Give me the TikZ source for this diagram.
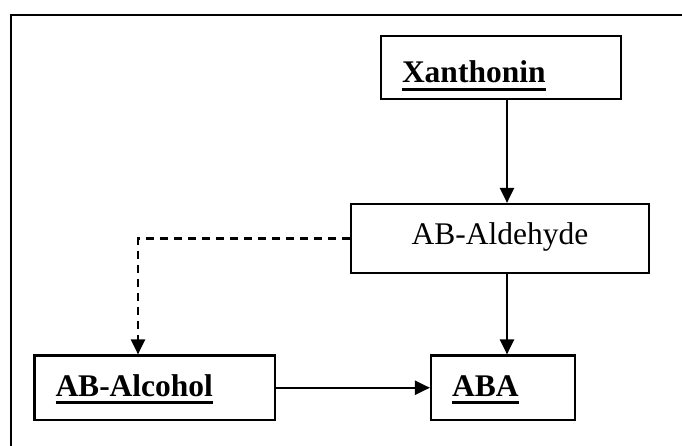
\documentclass[tikz,border=0pt]{standalone}
\usepackage{fontspec}
\setmainfont{Liberation Serif}
\usepackage{tikz}
\usetikzlibrary{arrows.meta}
\tikzstyle{arrow} = [line width=2.2pt,-{Triangle[length=15pt,width=14pt]}]
\tikzstyle{dasharrow} = [arrow,dash pattern=on 8pt off 6pt]
\tikzstyle{box} = [draw,rectangle,line width=2.2pt,inner ysep=0pt,font=\fontsize{31.5}{38}\selectfont]
\tikzstyle{namebox} = [box,font=\fontsize{31.5}{38}\selectfont\bfseries,align=left,inner xsep=21pt]
\newcommand{\ulthick}[1]{\setbox0\hbox{#1}\rlap{\rule[-8pt]{\wd0}{3pt}}\box0}

\begin{document}
\begin{tikzpicture}[x=1pt,y=-1pt]
\clip (0,0) rectangle (682,446);
% frame, runs off the right and bottom
\draw[line width=2pt] (11,15) rectangle (700,470);

\node[namebox,text width=198pt,text height=47pt,text depth=16pt] (xan) at (501,67.5) {\ulthick{Xanthonin}};
\node[box,minimum width=298pt,text height=40pt,text depth=29pt] (ald) at (500,238.5) {AB-Aldehyde};
\node[namebox,text width=198.5pt,text height=40.5pt,text depth=24pt] (alc) at (154.75,387.75) {\ulthick{AB-Alcohol}};
\node[namebox,text width=102pt,text height=40.5pt,text depth=24pt] (aba) at (503,387.75) {\ulthick{ABA}};

\draw[arrow] ([xshift=6pt]xan.south) -- ([xshift=6pt]xan.south |- ald.north);
\draw[arrow] ([xshift=7pt]ald.south) -- ([xshift=7pt]ald.south |- aba.north);
\draw[arrow] (alc.east) -- (aba.west);
\draw[dasharrow] (ald.west) -| ([xshift=-16.75pt]alc.north);
\end{tikzpicture}
\end{document}
